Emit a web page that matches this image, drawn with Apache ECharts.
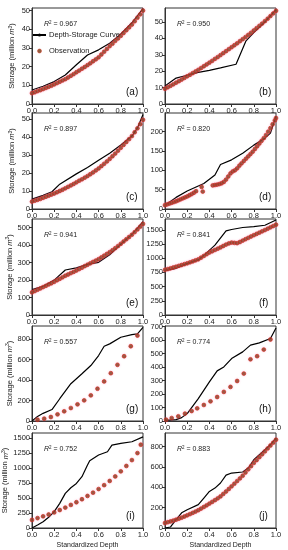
<!DOCTYPE html>
<html><head><meta charset="utf-8">
<script src="https://cdn.jsdelivr.net/npm/echarts@6/dist/echarts.min.js"></script>
<style>html,body{margin:0;padding:0;background:#fff}#c{width:288px;height:550px}</style>
</head><body><div id="c"></div>
<script>
// ---------- DATA ----------
const depthDense = [0,0.025,0.05,0.075,0.1,0.125,0.15,0.175,0.2,0.225,0.25,0.275,0.3,0.325,0.35,0.375,0.4,0.425,0.45,0.475,0.5,0.525,0.55,0.575,0.6,0.625,0.65,0.675,0.7,0.725,0.75,0.775,0.8,0.825,0.85,0.875,0.9,0.925,0.95,0.975,1];
const depthTicks = [0,0.2,0.4,0.6,0.8,1.0];
const panelLetters = ['a','b','c','d','e','f','g','h','i','j'];
const r2Values = ['0.967','0.950','0.897','0.820','0.941','0.841','0.557','0.774','0.752','0.883'];

const yTicksA = [0,10,20,30,40,50];
const yTicksB = [0,10,20,30,40,50];
const yTicksC = [0,10,20,30,40,50];
const yTicksD = [0,50,100,150,200];
const yTicksE = [0,100,200,300,400,500];
const yTicksF = [0,250,500,750,1000,1250,1500];
const yTicksG = [0,200,400,600,800];
const yTicksH = [0,100,200,300,400,500,600,700];
const yTicksI = [0,250,500,750,1000,1250,1500];
const yTicksJ = [0,200,400,600,800];

const curveA = [[0,7.5],[0.1,9.5],[0.2,12],[0.3,15.5],[0.4,21],[0.5,26.2],[0.6,29],[0.7,32.5],[0.75,35],[0.8,37.5],[0.9,43.5],[1.0,51]];
const obsA = [5.8,6.3,6.9,7.4,8.0,8.6,9.2,9.8,10.5,11.2,11.9,12.6,13.3,14.2,15.1,16.0,17.0,17.9,18.9,19.8,20.8,21.8,22.9,23.9,25.0,26.5,28.0,29.5,31.0,32.3,33.8,35.1,36.5,38.0,39.5,41.0,42.5,44.3,46.2,48.0,50.0];

const curveB = [[0,11],[0.1,15.8],[0.2,17.5],[0.3,19.3],[0.4,20.5],[0.5,22],[0.64,24.2],[0.73,38.5],[0.8,43.5],[0.9,50],[1.0,57.5]];
const obsB = [9.3,10.2,11.1,12.0,13.0,13.9,14.9,15.9,16.9,17.8,18.8,19.8,20.8,21.9,23.0,24.1,25.2,26.3,27.5,28.6,29.8,31.0,32.2,33.4,34.6,35.8,37.0,38.3,39.5,40.8,42.1,43.4,44.8,46.2,47.6,49.0,50.5,52.0,53.6,55.2,56.8];

const curveC = [[0,5.5],[0.1,7.6],[0.18,9.6],[0.25,13.8],[0.4,19.5],[0.5,23],[0.6,27],[0.7,31],[0.8,35.5],[0.9,40.5],[0.95,45],[1.0,52.5]];
const obsC = [4.1,4.6,5.1,5.6,6.2,6.8,7.4,8.0,8.6,9.3,10.0,10.7,11.5,12.3,13.1,13.9,14.8,15.7,16.5,17.4,18.3,19.3,20.3,21.4,22.5,23.8,25.1,26.4,27.8,29.3,30.8,32.4,34.0,35.6,37.2,38.8,40.5,42.6,44.8,47.1,49.5];

const curveD = [[0,10],[0.1,30],[0.2,46.5],[0.3,59.5],[0.35,66],[0.45,88],[0.5,115],[0.6,127],[0.7,144],[0.8,165],[0.9,183],[0.95,196],[1.0,240]];
const obsD = [[0,10],[0.02,12],[0.04,14],[0.06,16],[0.08,18],[0.1,20],[0.12,22.5],[0.14,25],[0.16,27.5],[0.18,30],[0.2,32.5],[0.22,35.5],[0.24,38.5],[0.26,42],[0.28,46],[0.33,57],[0.34,45],[0.43,61],[0.45,62],[0.47,63],[0.49,64.5],[0.51,66.5],[0.53,70],[0.55,76],[0.57,84],[0.59,92],[0.61,97],[0.63,100],[0.65,105],[0.67,112],[0.69,118],[0.71,124],[0.73,130],[0.75,136],[0.77,142],[0.79,148],[0.81,155],[0.83,162],[0.85,169],[0.87,176],[0.89,183],[0.91,191],[0.93,200],[0.95,209],[0.97,219],[0.99,229],[1.0,235]];

const curveE = [[0,145],[0.1,165],[0.2,200],[0.3,258],[0.4,270],[0.5,290],[0.6,302],[0.7,345],[0.8,405],[0.9,462],[1.0,535]];
const obsE = [130,137,145,152,160,167,175,182,190,199,207,216,225,232,240,247,255,263,271,280,288,296,304,312,320,330,340,350,360,371,383,395,408,421,434,447,460,475,490,506,522];

const curveF = [[0,780],[0.1,822],[0.2,905],[0.3,968],[0.35,1050],[0.45,1230],[0.55,1480],[0.6,1505],[0.7,1540],[0.8,1555],[0.9,1580],[1.0,1672]];
const obsF = [795,808,822,836,850,865,880,895,910,927,944,962,980,1010,1040,1070,1100,1122,1145,1167,1190,1215,1240,1260,1275,1270,1265,1285,1310,1334,1358,1382,1405,1428,1450,1473,1495,1519,1543,1566,1590];

const curveG = [[0,0],[0.05,45],[0.1,75],[0.18,112],[0.25,218],[0.35,365],[0.45,462],[0.53,543],[0.6,641],[0.65,732],[0.7,755],[0.8,820],[0.9,846],[0.95,853],[1.0,917]];
const obsG = [[0.05,13],[0.11,23],[0.17,39],[0.23,65],[0.29,95],[0.35,127],[0.41,163],[0.47,202],[0.53,251],[0.59,316],[0.65,387],[0.71,468],[0.77,550],[0.83,634],[0.89,732],[0.95,836]];

const curveH = [[0,5],[0.1,10],[0.15,25],[0.2,55],[0.3,166],[0.4,290],[0.47,372],[0.53,401],[0.6,463],[0.7,513],[0.77,563],[0.85,580],[0.95,612],[1.0,690]];
const obsH = [[0.01,10],[0.06,22],[0.12,35],[0.18,55],[0.24,74],[0.29,94],[0.35,119],[0.41,146],[0.47,178],[0.53,216],[0.59,253],[0.65,297],[0.71,352],[0.77,458],[0.83,481],[0.89,530],[0.95,605]];

const curveI = [[0,0],[0.05,50],[0.1,105],[0.15,178],[0.2,272],[0.25,411],[0.3,578],[0.35,672],[0.4,744],[0.45,856],[0.5,1050],[0.52,1122],[0.6,1217],[0.68,1272],[0.72,1383],[0.8,1411],[0.9,1439],[1.0,1520]];
const obsI = [[0,135],[0.05,165],[0.1,195],[0.15,225],[0.2,260],[0.25,300],[0.3,340],[0.35,385],[0.4,430],[0.45,480],[0.5,535],[0.55,590],[0.6,650],[0.65,715],[0.7,785],[0.75,860],[0.8,945],[0.85,1035],[0.9,1133],[0.95,1250],[0.98,1390]];

const curveJ = [[0,0],[0.05,10],[0.1,82],[0.15,150],[0.2,180],[0.3,230],[0.35,295],[0.4,360],[0.45,393],[0.5,443],[0.55,520],[0.6,541],[0.7,551],[0.75,590],[0.8,672],[0.85,721],[0.9,770],[0.95,820],[1.0,885]];
const obsJ = [49,57,65,73,82,92,102,113,125,137,149,162,175,191,207,223,240,257,274,292,311,335,359,384,410,436,462,488,515,546,577,608,640,668,697,725,754,783,812,840,869];

// ---------- LAYOUT / STYLE ----------
const pair = (ys) => depthDense.map((x, k) => [x, ys[k]]);
const panels = [
  {curve: curveA, obs: pair(obsA), ticks: yTicksA, max: 51.4},
  {curve: curveB, obs: pair(obsB), ticks: yTicksB, max: 58.5},
  {curve: curveC, obs: pair(obsC), ticks: yTicksC, max: 53.3},
  {curve: curveD, obs: obsD,       ticks: yTicksD, max: 248},
  {curve: curveE, obs: pair(obsE), ticks: yTicksE, max: 550},
  {curve: curveF, obs: pair(obsF), ticks: yTicksF, max: 1690},
  {curve: curveG, obs: obsG,       ticks: yTicksG, max: 930},
  {curve: curveH, obs: obsH,       ticks: yTicksH, max: 705},
  {curve: curveI, obs: obsI,       ticks: yTicksI, max: 1585},
  {curve: curveJ, obs: pair(obsJ), ticks: yTicksJ, max: 935}
];
const colLeft = [32, 165];
const rowTop = [8, 113, 219, 326, 433];
const rowH = [96, 96, 96, 95, 95];
const W = 111;
const txt = '#222', axisCol = '#333';
const FONT = 'Liberation Sans, Arial, sans-serif';
const obsStyle = {color: '#74380f', borderColor: '#cc2818', borderWidth: 0.8,
  shadowBlur: 2, shadowColor: 'rgba(255,120,180,0.5)'};

const grid = [], xAxis = [], yAxis = [], series = [], title = [], graphic = [];
panels.forEach((p, i) => {
  const col = i % 2, row = Math.floor(i / 2);
  const left = colLeft[col], top = rowTop[row], h = rowH[row];
  grid.push({left: left, top: top, width: W, height: h, show: true, borderColor: axisCol, borderWidth: 1, containLabel: false});
  xAxis.push({
    type: 'value', gridIndex: i, min: 0, max: 1, interval: 0.2,
    axisLine: {show: true, lineStyle: {color: axisCol, width: 1}},
    axisTick: {show: true, length: 3, lineStyle: {color: axisCol}},
    axisLabel: {fontSize: 7.5, color: txt, margin: 3, fontFamily: FONT, formatter: v => v.toFixed(1)},
    splitLine: {show: false},
    name: row === 4 ? 'Standardized Depth' : '',
    nameLocation: 'middle', nameGap: 14,
    nameTextStyle: {fontSize: 7, color: txt, fontFamily: FONT}
  });
  yAxis.push({
    type: 'value', gridIndex: i, min: 0, max: p.max,
    axisLine: {show: true, lineStyle: {color: axisCol, width: 1}},
    axisTick: {show: true, length: 3, lineStyle: {color: axisCol}, customValues: p.ticks},
    axisLabel: {fontSize: 7.5, color: txt, margin: 2, fontFamily: FONT, customValues: p.ticks,
      formatter: v => String(v)},
    splitLine: {show: false},
    name: col === 0 ? 'Storage (million {it|m}{sup|3})' : '',
    nameLocation: 'middle', nameGap: 16, nameRotate: 90,
    nameTextStyle: {fontSize: 7.5, color: txt, fontFamily: FONT,
      rich: {it: {fontSize: 7.5, fontStyle: 'italic', color: txt, fontFamily: FONT},
             sup: {fontSize: 5, color: txt, verticalAlign: 'top', fontFamily: FONT}}}
  });
  series.push({
    type: 'line', name: 'Depth-Storage Curve', xAxisIndex: i, yAxisIndex: i,
    data: p.curve, symbol: 'none', itemStyle: {color: '#000'},
    lineStyle: {color: '#000', width: 1.2}, z: 2, silent: true
  });
  series.push({
    type: 'scatter', name: 'Observation', xAxisIndex: i, yAxisIndex: i,
    data: p.obs, symbolSize: 3.8, z: 3, silent: true, itemStyle: obsStyle
  });
  title.push({
    text: '{i|R}{s|2}{n| = ' + r2Values[i] + '}',
    left: left + 12, top: top + 12, padding: 0,
    textStyle: {fontSize: 7, fontWeight: 'normal', color: txt, fontFamily: FONT,
      rich: {i: {fontStyle: 'italic', fontSize: 7, color: txt, fontFamily: FONT, lineHeight: 9},
             s: {fontSize: 4.5, color: txt, verticalAlign: 'top', fontFamily: FONT, lineHeight: 5},
             n: {fontSize: 7, color: txt, fontFamily: FONT, lineHeight: 9}}}
  });
  graphic.push({
    type: 'text', left: left + W - 17, top: top + h - 17,
    style: {text: '(' + panelLetters[i] + ')', fontSize: 10, fill: '#111', fontFamily: FONT}
  });
});

const chart = echarts.init(document.getElementById('c'), null, {renderer: 'canvas'});
chart.setOption({
  animation: false,
  backgroundColor: '#fff',
  textStyle: {fontFamily: FONT},
  grid, xAxis, yAxis, series, title, graphic,
  legend: {
    data: [
      {name: 'Depth-Storage Curve'},
      {name: 'Observation', icon: 'circle', itemStyle: {color: '#74380f', borderColor: '#cc2818', borderWidth: 0.6, shadowBlur: 0}}
    ],
    orient: 'vertical', left: 32, top: 31, itemWidth: 13, itemHeight: 4, itemGap: 8,
    padding: 0, selectedMode: false,
    textStyle: {fontSize: 7.5, color: txt, fontFamily: FONT, padding: [0, 0, 0, -2]}
  }
});
</script></body></html>
